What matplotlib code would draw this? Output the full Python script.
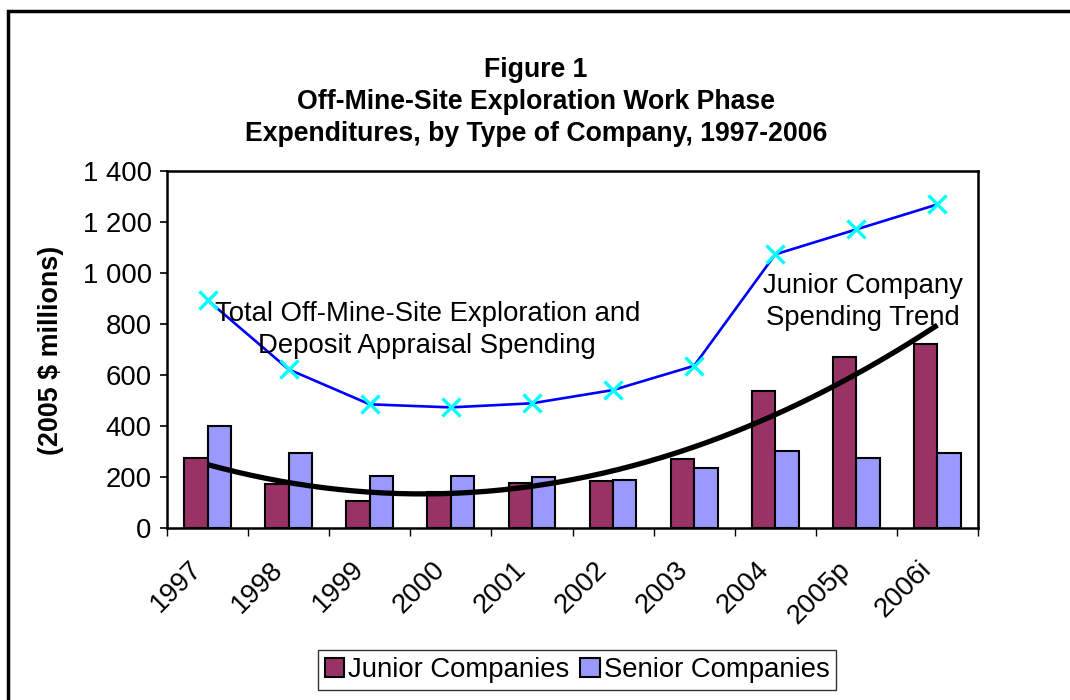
import numpy as np
import matplotlib
matplotlib.use("Agg")
import matplotlib.pyplot as plt
from matplotlib.patches import Rectangle
from matplotlib.ticker import FuncFormatter, FixedLocator
from matplotlib.transforms import ScaledTranslation

plt.rcParams['font.family'] = ['Liberation Sans', 'DejaVu Sans']

years = ["1997", "1998", "1999", "2000", "2001", "2002", "2003", "2004", "2005p", "2006i"]
junior = [276, 171, 107, 142, 175, 186, 270, 537, 669, 720]
senior = [400, 295, 205, 205, 199, 188, 234, 302, 276, 293]
total = [894, 622, 485, 473, 489, 541, 636, 1073, 1171, 1269]

JUN_C = "#993366"
SEN_C = "#9999FF"
FS = 19.8

fig = plt.figure(figsize=(10.7, 7.0), dpi=100)
ax = fig.add_axes([167/1070, 1-528/700, (978-167)/1070, (528-171)/700])

x = np.arange(len(years))
w = 0.288
ax.bar(x - w/2, junior, width=w, color=JUN_C, edgecolor="black", linewidth=1.5, label="Junior Companies", zorder=2)
ax.bar(x + w/2, senior, width=w, color=SEN_C, edgecolor="black", linewidth=1.5, label="Senior Companies", zorder=2)

# total line
ax.plot(x, total, color="#0000FF", lw=1.9, zorder=3)
ax.plot(x, total, linestyle="none", marker="x", color="#00FFFF", markersize=12.5, mew=2.4, zorder=4)

# polynomial trendline of junior spending
xt = x + 1
coef = np.polyfit(xt, junior, 2)
xs = np.linspace(xt[0], xt[-1], 200)
ax.plot(xs - 1, np.polyval(coef, xs), color="black", lw=3.8, zorder=5, solid_capstyle="butt")

ax.set_xlim(-0.5, len(years) - 0.5)
ax.set_ylim(0, 1400)
ax.set_yticks(np.arange(0, 1401, 200))
ax.yaxis.set_major_formatter(FuncFormatter(lambda v, p: f"{int(v):,}".replace(",", " ")))
ax.tick_params(axis="y", direction="out", length=5, width=1.2, labelsize=FS, pad=6)

ax.xaxis.set_major_locator(FixedLocator(np.arange(-0.5, len(years), 1.0)))
ax.xaxis.set_major_formatter(FuncFormatter(lambda v, p: ""))
ax.set_xticks(x, minor=True)
ax.set_xticklabels(years, minor=True, rotation=45, ha="right", va="center", rotation_mode="anchor", fontsize=FS)
ax.tick_params(axis="x", which="major", direction="out", length=6, width=1.0)
ax.tick_params(axis="x", which="minor", length=0, pad=27)
off = ScaledTranslation(-10/100, 0, fig.dpi_scale_trans)
for lab in ax.get_xticklabels(minor=True):
    lab.set_transform(lab.get_transform() + off)

for s in ax.spines.values():
    s.set_linewidth(1.8)
    s.set_color("black")

ax.text(2.71, 778, "Total Off-Mine-Site Exploration and\nDeposit Appraisal Spending",
        ha="center", va="center", fontsize=FS, linespacing=1.3, zorder=6)
ax.text(8.08, 885, "Junior Company\nSpending Trend",
        ha="center", va="center", fontsize=FS, linespacing=1.3, zorder=6)

fig.text(536/1070, 1-102/700, "Figure 1\nOff-Mine-Site Exploration Work Phase\nExpenditures, by Type of Company, 1997-2006",
         ha="center", va="center", fontsize=19.2, fontweight="bold", linespacing=1.3)

fig.text(51/1070, 1-350/700, "(2005 $ millions)", rotation=90, ha="center", va="center",
         fontsize=19.4, fontweight="bold")

leg = fig.legend(loc="center", bbox_to_anchor=(577/1070, 1-670/700), ncol=2, fontsize=FS,
                 frameon=True, fancybox=False, edgecolor="black", handlelength=0.7, handleheight=0.7,
                 handletextpad=0.15, columnspacing=0.4, borderpad=0.25)
leg.get_frame().set_linewidth(1.0)

fig.patches.append(Rectangle((8/1070, -0.1), 1.2, 1.1 - 11/700, transform=fig.transFigure,
                             fill=False, edgecolor="black", linewidth=2.5, zorder=0))

fig.savefig("out.png", dpi=100)
